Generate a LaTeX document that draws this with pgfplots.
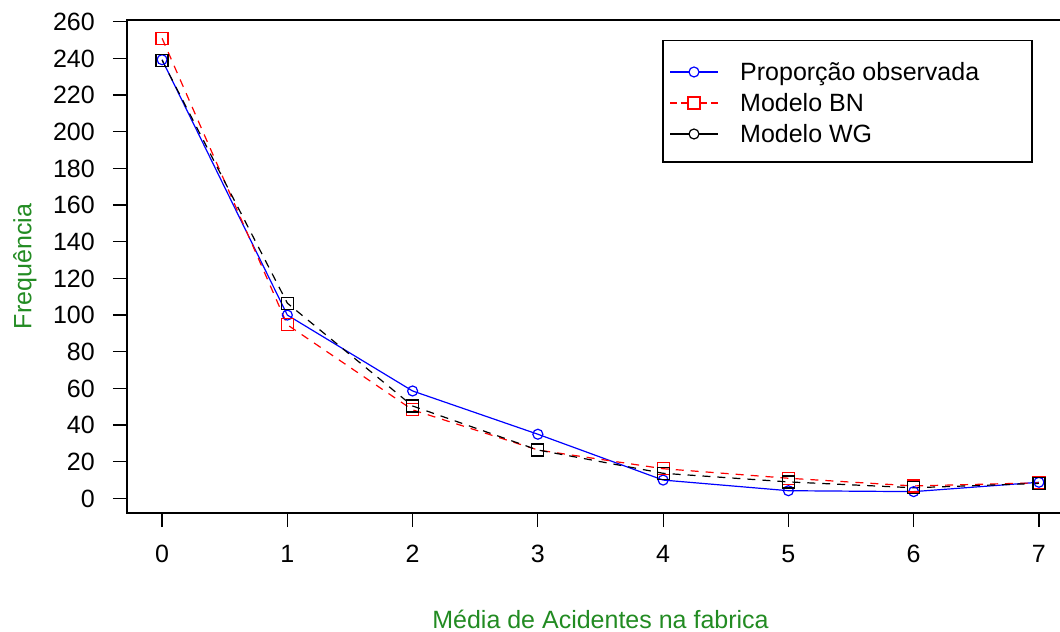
\documentclass[border=0pt]{standalone}
\usepackage{fontspec}
\setmainfont{Liberation Sans}
\usepackage{pgfplots}
\pgfplotsset{compat=1.18}
\definecolor{lblgreen}{RGB}{34,139,34}
\definecolor{rred}{RGB}{255,0,0}
\definecolor{bblue}{RGB}{0,0,255}
\begin{document}
\fontsize{25bp}{30bp}\selectfont
\begin{tikzpicture}
\useasboundingbox (0,0) rectangle (1060bp,632bp);
\clip (0,0) rectangle (1060bp,632bp);
\begin{axis}[
  at={(127bp,119bp)}, anchor=south west,
  scale only axis, width=947bp, height=493bp,
  xmin=-0.28, xmax=7.28, ymin=-7.96, ymax=260.96,
  xtick={0,...,7}, ytick={0,20,...,260},
  tick pos=left,
  tick align=outside, major tick length=14bp,
  every tick/.style={black, line width=1.2bp},
  axis line style={line width=1.2bp, black},
  /pgf/number format/assume math mode=true,
  tick label style={font=\fontsize{25bp}{30bp}\selectfont, black},
  yticklabel style={anchor=east, inner xsep=0pt, xshift=-18bp},
  xticklabel style={anchor=north, inner ysep=0pt, yshift=-18bp},
  xlabel={Média de Acidentes na fabrica},
  ylabel={Frequência},
  label style={font=\fontsize{25bp}{30bp}\selectfont, text=lblgreen},
  xlabel style={at={(axis description cs:0.5,-0.2333)}, anchor=base},
  ylabel style={at={(axis description cs:-0.101,0.5)}, anchor=base},
]
\addplot[color=bblue, line width=1.2bp, mark=o, mark size=5bp, mark options={solid}]
  coordinates {(0,239.3) (1,100) (2,58.6) (3,35) (4,10) (5,4.2) (6,3.7) (7,8.8)};
\addplot[color=rred, line width=1.2bp, dash pattern=on 8bp off 7bp, mark=square, mark size=6bp, mark options={solid}]
  coordinates {(0,251) (1,94.7) (2,48.3) (3,26.4) (4,16.2) (5,11) (6,6.8) (7,8.5)};
\addplot[color=black, line width=1.2bp, dash pattern=on 8bp off 7bp, mark=square, mark size=6bp, mark options={solid}]
  coordinates {(0,239) (1,106.5) (2,50.4) (3,26.4) (4,13.7) (5,9) (6,5.8) (7,8.2)};
\end{axis}
% legend (drawn as a box with samples and text)
\draw[black, line width=1.2bp, fill=white] (663bp,470bp) rectangle (1032bp,591.3bp);
\draw[bblue, line width=1.2bp] (670bp,560bp) -- (718bp,560bp);
\draw[bblue, line width=1.2bp, fill=white] (694bp,560bp) circle (5bp);
\draw[rred, line width=1.2bp] (670bp,529bp) -- (677bp,529bp) (681bp,529bp) -- (687bp,529bp)
  (701bp,529bp) -- (707bp,529bp) (711bp,529bp) -- (718bp,529bp);
\draw[rred, line width=1.2bp] (688bp,523bp) rectangle (700bp,535bp);
\draw[black, line width=1.2bp] (670bp,498bp) -- (718bp,498bp);
\draw[black, line width=1.2bp, fill=white] (694bp,498bp) circle (5bp);
\node[anchor=base west, inner sep=0pt] at (740bp,551bp) {Proporção observada};
\node[anchor=base west, inner sep=0pt] at (740bp,520bp) {Modelo BN};
\node[anchor=base west, inner sep=0pt] at (740bp,489bp) {Modelo WG};
\end{tikzpicture}
\end{document}
